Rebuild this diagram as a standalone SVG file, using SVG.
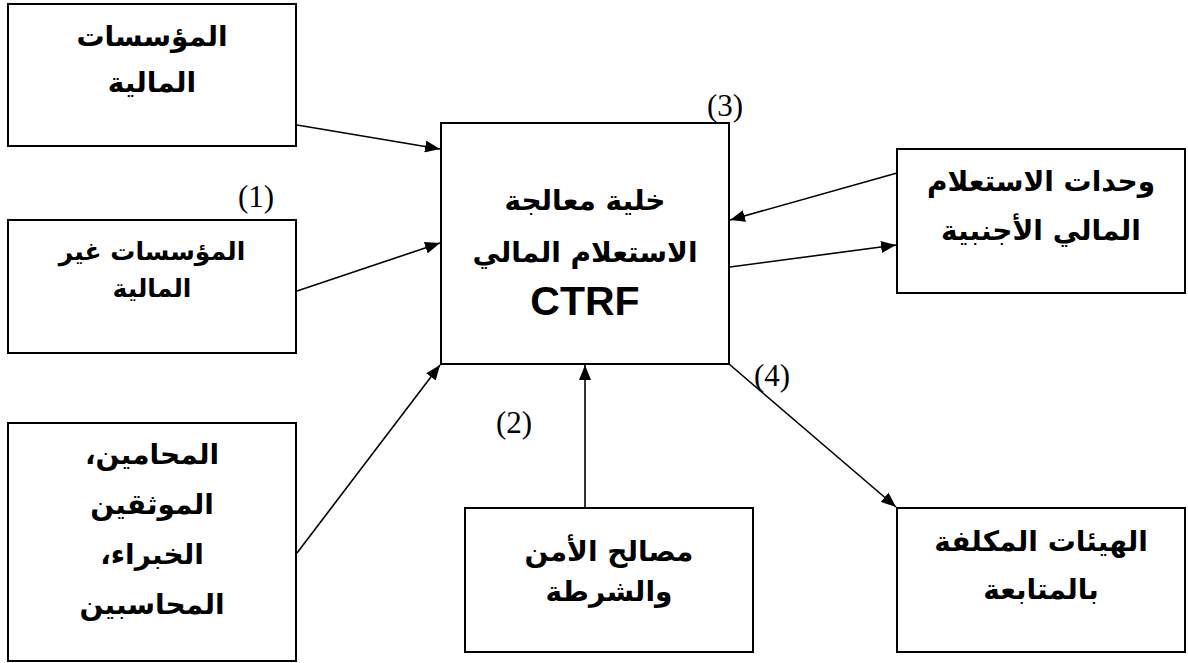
<svg xmlns="http://www.w3.org/2000/svg" width="1188" height="663" viewBox="0 0 1188 663">
<style>
.box{fill:#fff;stroke:#000;stroke-width:2}
.ar{font-family:"DejaVu Sans",sans-serif;font-weight:bold;fill:#000;text-anchor:middle;font-size:28px}
.sm{font-size:25px}
.num{font-family:"Liberation Serif",serif;font-size:31px;fill:#000;text-anchor:middle}
.lat{font-family:"Liberation Sans",Arial,sans-serif;font-weight:bold;fill:#000;text-anchor:middle}
.conn{stroke:#000;stroke-width:1.6;fill:none}
</style>
<defs>
<marker id="ah" markerUnits="userSpaceOnUse" markerWidth="16" markerHeight="12" refX="15" refY="6" orient="auto">
<path d="M0,0 L15,6 L0,12 z" fill="#000"/>
</marker>
</defs>
<rect width="1188" height="663" fill="#fff"/>
<g id="connectors">
<line class="conn" x1="297" y1="125" x2="440" y2="149" marker-end="url(#ah)"/>
<line class="conn" x1="297" y1="291" x2="440" y2="243" marker-end="url(#ah)"/>
<line class="conn" x1="297" y1="553" x2="440" y2="365" marker-end="url(#ah)"/>
<line class="conn" x1="585" y1="507" x2="585" y2="365" marker-end="url(#ah)"/>
<line class="conn" x1="897" y1="173" x2="730" y2="220" marker-end="url(#ah)"/>
<line class="conn" x1="730" y1="267" x2="896" y2="245" marker-end="url(#ah)"/>
<line class="conn" x1="729" y1="364" x2="896" y2="507" marker-end="url(#ah)"/>
</g>
<g id="n1">
<rect class="box" x="8" y="4" width="288" height="142"/>
<text class="ar" direction="rtl" x="152" y="46">المؤسسات</text>
<text class="ar" direction="rtl" x="152" y="92">المالية</text>
</g>
<g id="n2">
<rect class="box" x="8" y="220" width="288" height="133"/>
<text class="ar sm" direction="rtl" x="152" y="260">المؤسسات غير</text>
<text class="ar sm" direction="rtl" x="152" y="297">المالية</text>
</g>
<g id="n3">
<rect class="box" x="8" y="423" width="288" height="238"/>
<text class="ar" direction="rtl" x="152" y="464">المحامين،</text>
<text class="ar" direction="rtl" x="152" y="514">الموثقين</text>
<text class="ar" direction="rtl" x="152" y="564">الخبراء،</text>
<text class="ar" direction="rtl" x="152" y="614">المحاسبين</text>
</g>
<g id="center">
<rect class="box" x="441" y="123" width="288" height="241"/>
<text class="ar" direction="rtl" x="585" y="210">خلية معالجة</text>
<text class="ar" direction="rtl" x="585" y="262">الاستعلام المالي</text>
<text class="lat" x="585" y="315" font-size="41">CTRF</text>
</g>
<g id="foreign">
<rect class="box" x="897" y="149" width="288" height="144"/>
<text class="ar" direction="rtl" x="1041" y="191">وحدات الاستعلام</text>
<text class="ar" direction="rtl" x="1041" y="240">المالي الأجنبية</text>
</g>
<g id="security">
<rect class="box" x="465" y="508" width="288" height="144"/>
<text class="ar" direction="rtl" x="609" y="561">مصالح الأمن</text>
<text class="ar" direction="rtl" x="609" y="601">والشرطة</text>
</g>
<g id="followup">
<rect class="box" x="897" y="508" width="288" height="144"/>
<text class="ar" direction="rtl" x="1041" y="551">الهيئات المكلفة</text>
<text class="ar" direction="rtl" x="1041" y="599">بالمتابعة</text>
</g>
<g id="labels">
<text class="num" x="256" y="207">(1)</text>
<text class="num" x="514" y="433">(2)</text>
<text class="num" x="725" y="116">(3)</text>
<text class="num" x="772" y="386">(4)</text>
</g>
</svg>
